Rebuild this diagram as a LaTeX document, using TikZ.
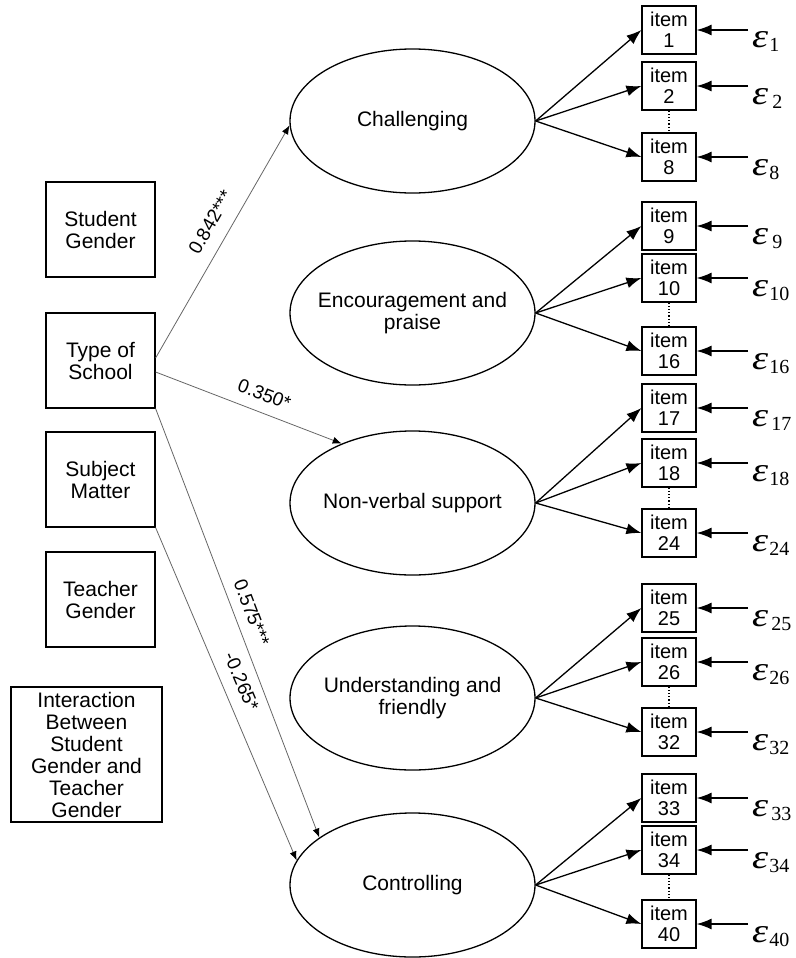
\documentclass[tikz,border=0pt]{standalone}
\usepackage{fontspec}
\setmainfont{Liberation Sans}
\newfontfamily\serifdig{Liberation Serif}
\usetikzlibrary{shapes.geometric,arrows.meta}
\newcommand\epsl[2]{{\serifdig\itshape\fontsize{34}{34}\selectfont\scalebox{1.2}[1]{ε}}\kern#1pt\raisebox{-4pt}{\serifdig\fontsize{20}{20}\selectfont #2}}
\newcommand\zw[1]{\makebox[0pt][c]{#1}}
\begin{document}
\begin{tikzpicture}[x=1pt,y=-1pt,
  lbox/.style={draw, line width=1.2pt, minimum width=109pt, minimum height=95pt, inner sep=0pt, align=center, font=\fontsize{21}{22}\selectfont},
  lat/.style={draw, shape=ellipse, line width=1.3pt, minimum width=245pt, minimum height=144pt, inner sep=0pt, align=center, font=\fontsize{21}{22}\selectfont},
  itembox/.style={draw, line width=1.2pt, minimum width=54pt, minimum height=48pt, inner sep=0pt, align=center, font=\fontsize{20}{21}\selectfont},
  load/.style={line width=1.3pt, -{Latex[length=15pt,width=11pt]}},
  errarr/.style={line width=1.3pt, -{Latex[length=15pt,width=11pt]}},
  pth/.style={line width=0.8pt, draw=black!60, -{Latex[length=9pt,width=7pt,fill=black,color=black]}},
  coef/.style={sloped, inner sep=0pt, font=\fontsize{19}{19}\selectfont},
  epsnode/.style={anchor=base west, inner sep=0pt}
]
\useasboundingbox (0,0) rectangle (795,958);

% left boxes
\node[lbox] (sg) at (100.5,229.5) {Student\\Gender};
\node[lbox] (tos) at (100.5,360.5) {Type of\\School};
\node[lbox] (sm) at (100.5,479.5) {Subject\\Matter};
\node[lbox] (tg) at (100.5,599.5) {Teacher\\Gender};
\node[lbox, minimum width=151pt, minimum height=135pt] (ia) at (86.5,754.5) {Interaction\\Between\\Student\\Gender and\\Teacher\\Gender};

% latent variables
\node[lat] (ch) at (412.5,121) {\zw{Challenging}};
\node[lat] (en) at (412.5,313) {\zw{Encouragement and}\\\zw{praise}};
\node[lat] (nv) at (412.5,503) {\zw{Non-verbal support}};
\node[lat] (un) at (412.5,698) {\zw{Understanding and}\\\zw{friendly}};
\node[lat] (co) at (412.5,885) {\zw{Controlling}};

% paths
\draw[pth] ([yshift=2.5pt]tos.east) -- node[coef, pos=0.54, above=13pt] {0.842***} (ch.182);
\draw[pth] ([yshift=-11.5pt]tos.east) -- node[coef, pos=0.55, above=11pt] {0.350*} (nv.140);
\draw[pth] (tos.south east) -- node[coef, pos=0.49, above=10pt] {0.575***} (co.153);
\draw[pth] (sm.south east) -- node[coef, pos=0.485, above=12pt] {-0.265*} (co.168);

% items
\foreach \n/\y/\lv/\sp in {1/30/ch/1, 2/86/ch/4, 8/157/ch/1,
  9/226/en/4, 10/278/en/1, 16/351/en/1,
  17/408/nv/3, 18/463/nv/1, 24/533/nv/1,
  25/608/un/3, 26/662/un/1, 32/732/un/1,
  33/798/co/3, 34/850/co/1, 40/924/co/1}{
  \node[itembox] (i\n) at (669,\y) {item\\\n};
  \draw[load] (\lv.east) -- (i\n.west);
  \coordinate (c\n) at (748,\y);
  \node[epsnode] (e\n) at (752,\y+18) {\epsl{\sp}{\n}};
  \draw[errarr] (c\n) -- (i\n.east);
}
\draw[dotted, line width=1.2pt] (i2.south) -- (i8.north);
\draw[dotted, line width=1.2pt] (i10.south) -- (i16.north);
\draw[dotted, line width=1.2pt] (i18.south) -- (i24.north);
\draw[dotted, line width=1.2pt] (i26.south) -- (i32.north);
\draw[dotted, line width=1.2pt] (i34.south) -- (i40.north);
\end{tikzpicture}
\end{document}
